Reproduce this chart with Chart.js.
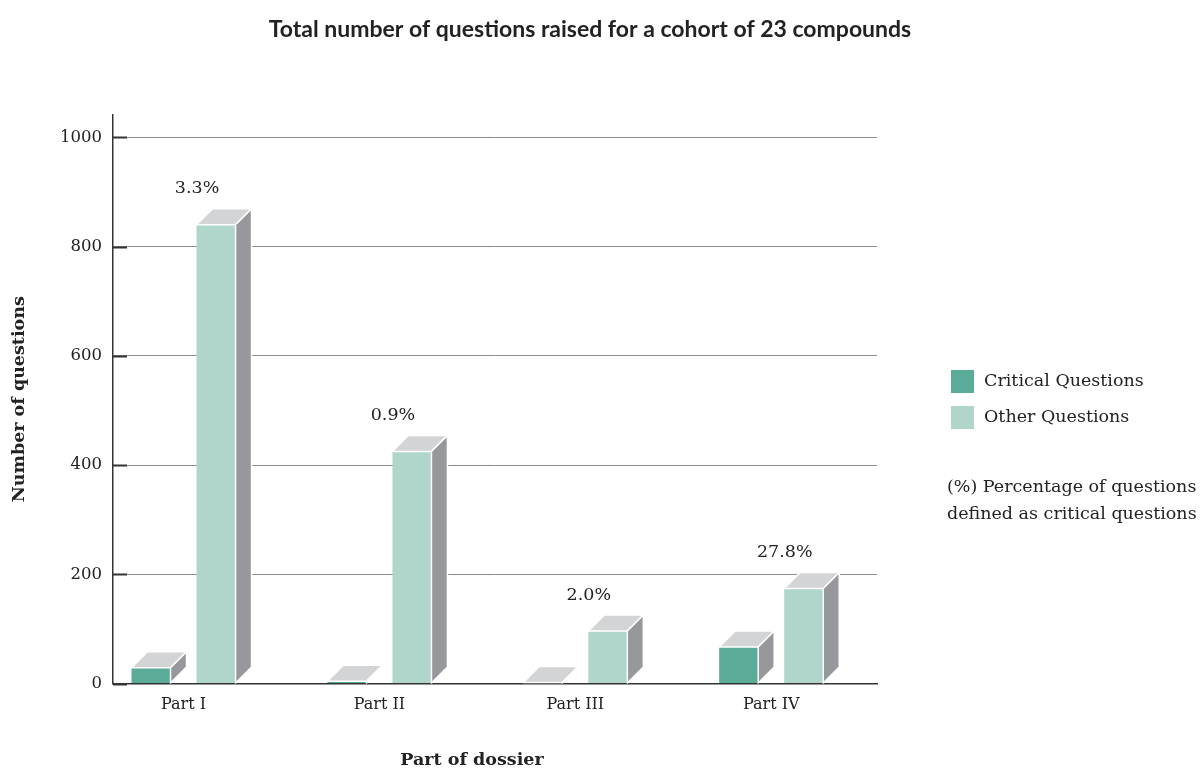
<!DOCTYPE html>
<html>
<head>
<meta charset="utf-8">
<title>Questions per part of dossier</title>
<script src="https://cdn.jsdelivr.net/npm/chart.js@4.4.0/dist/chart.umd.min.js"></script>
<style>
  html, body { margin: 0; padding: 0; background: #fff; }
  #wrap { width: 1202px; height: 776px; }
</style>
</head>
<body>
<div id="wrap"><canvas id="questionsChart" width="1202" height="776"></canvas></div>
<script>
// categories and values
var parts = ['Part I', 'Part II', 'Part III', 'Part IV'];
var partPos = [1, 2, 3, 4];
var critical = [29, 4, 2, 67];
var other = [840, 425, 96, 174];
var yTicks = [0, 200, 400, 600, 800, 1000];

var serif = 'DejaVu Serif';
var textColor = '#222';
var depth = 16;

// share of critical questions per part, shown above each pair
function pctLabel(i) {
    return (critical[i] / (critical[i] + other[i]) * 100).toFixed(1) + '%';
}

// fake 3D: top and side faces for every bar, plus inner tick marks
var bars3d = {
    id: 'bars3d',
    beforeDatasetsDraw: function(chart) {
        var ctx = chart.ctx, area = chart.chartArea, y = chart.scales.y;
        ctx.save();
        ctx.strokeStyle = '#333';
        ctx.lineWidth = 2;
        yTicks.forEach(function(v) {
            var py = Math.round(y.getPixelForValue(v)) + 0.5;
            ctx.beginPath();
            ctx.moveTo(area.left, py);
            ctx.lineTo(area.left + 14, py);
            ctx.stroke();
        });
        ctx.restore();
    },
    afterDatasetsDraw: function(chart) {
        var ctx = chart.ctx;
        ctx.save();
        ctx.lineWidth = 1.5;
        ctx.strokeStyle = '#fff';
        ctx.lineJoin = 'round';
        chart.data.datasets.forEach(function(ds, di) {
            chart.getDatasetMeta(di).data.forEach(function(bar) {
                var x0 = bar.x - bar.width / 2, x1 = bar.x + bar.width / 2;
                var top = bar.y, base = bar.base;
                // top face
                ctx.beginPath();
                ctx.moveTo(x0, top);
                ctx.lineTo(x1, top);
                ctx.lineTo(x1 + depth, top - depth);
                ctx.lineTo(x0 + depth, top - depth);
                ctx.closePath();
                ctx.fillStyle = '#d3d4d6';
                ctx.fill();
                ctx.stroke();
                // side face
                ctx.beginPath();
                ctx.moveTo(x1, top);
                ctx.lineTo(x1 + depth, top - depth);
                ctx.lineTo(x1 + depth, base - depth);
                ctx.lineTo(x1, base);
                ctx.closePath();
                ctx.fillStyle = '#97989c';
                ctx.fill();
                ctx.stroke();
            });
        });
        // percentages above the "other" bars
        ctx.fillStyle = textColor;
        ctx.font = '17.5px "' + serif + '"';
        ctx.textAlign = 'center';
        ctx.textBaseline = 'middle';
        chart.getDatasetMeta(1).data.forEach(function(bar, i) {
            ctx.fillText(pctLabel(i), bar.x - 19, bar.y - 36);
        });
        ctx.restore();
    },
    afterDraw: function(chart) {
        var ctx = chart.ctx;
        ctx.save();
        ctx.fillStyle = textColor;
        ctx.textBaseline = 'middle';

        ctx.textAlign = 'center';
        ctx.font = 'bold 23px Lato';
        ctx.fillText('Total number of questions raised for a cohort of 23 compounds', 590, 30);

        ctx.font = 'bold 17.5px "' + serif + '"';
        ctx.fillText('Part of dossier', 472, 760);

        // legend
        ctx.textAlign = 'left';
        ctx.font = '17.5px "' + serif + '"';
        chart.data.datasets.forEach(function(ds, i) {
            var ly = 370 + i * 36;
            ctx.fillStyle = ds.backgroundColor;
            ctx.fillRect(951, ly, 23, 23);
            ctx.fillStyle = textColor;
            ctx.fillText(ds.label, 984, ly + 11);
        });
        ctx.fillText('(%) Percentage of questions', 947, 487);
        ctx.fillText('defined as critical questions', 947, 514);
        ctx.restore();
    }
};

var ctx = document.getElementById('questionsChart');
var chart = new Chart(ctx, {
    type: 'bar',
    data: {
        datasets: [{
            label: 'Critical Questions',
            data: critical.map(function(v, i) { return {x: partPos[i], y: v}; }),
            backgroundColor: '#5aab98',
        }, {
            label: 'Other Questions',
            data: other.map(function(v, i) { return {x: partPos[i], y: v}; }),
            backgroundColor: '#b0d5ca',
        }],
    },
    options: {
        responsive: false,
        animation: false,
        categoryPercentage: 0.664,
        barPercentage: 0.6,
        borderWidth: 0,
        layout: { padding: { top: 115, right: 325, bottom: 0, left: 0 } },
        plugins: {
            legend: { display: false },
            title: { display: false },
            tooltip: { enabled: false },
        },
        scales: {
            x: {
                type: 'linear',
                offset: false,
                min: 0.64,
                max: 4.54,
                afterBuildTicks: function(scale) {
                    scale.ticks = partPos.map(function(v) { return {value: v}; });
                },
                afterFit: function(scale) { scale.height = 92.5; },
                grid: { display: false, drawTicks: false, offset: false },
                border: { color: '#333', width: 1.5 },
                ticks: {
                    autoSkip: false,
                    maxRotation: 0,
                    padding: 12,
                    color: textColor,
                    font: { family: serif, size: 16 },
                    callback: function(v) { return parts[partPos.indexOf(v)]; },
                },
            },
            y: {
                min: 0,
                max: 1041,
                afterBuildTicks: function(scale) {
                    scale.ticks = yTicks.map(function(v) { return {value: v}; });
                },
                afterFit: function(scale) { scale.width = 113; },
                grid: { color: '#8e8e8e', lineWidth: 1, drawTicks: false },
                border: { color: '#333', width: 1.5 },
                ticks: {
                    padding: 11,
                    color: textColor,
                    font: { family: serif, size: 16.5 },
                    callback: function(v) { return String(v); },
                },
                title: {
                    display: true,
                    text: 'Number of questions',
                    color: textColor,
                    font: { family: serif, size: 17.5, weight: 'bold' },
                    padding: { top: 9, bottom: 0 },
                },
            },
        },
    },
    plugins: [bars3d],
});
</script>
</body>
</html>
